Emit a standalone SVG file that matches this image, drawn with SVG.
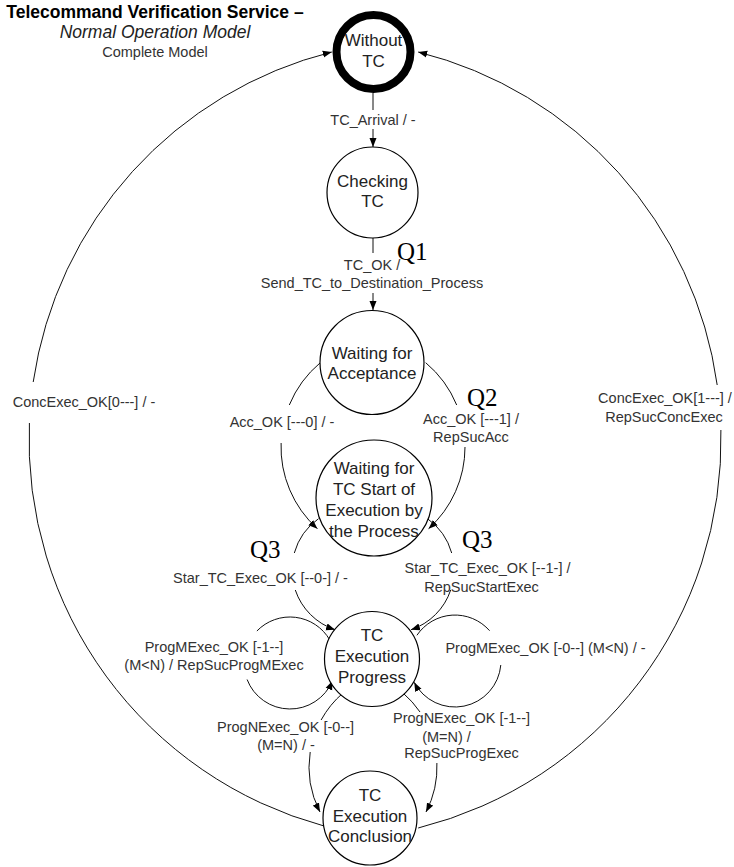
<svg xmlns="http://www.w3.org/2000/svg" width="734" height="867" viewBox="0 0 734 867">
<defs>
<marker id="arr" markerWidth="9" markerHeight="8" refX="9" refY="4" orient="auto" markerUnits="userSpaceOnUse"><path d="M0,0.5 L9,4 L0,7.5 z" fill="#000"/></marker>
<style>
.n{fill:#fff;stroke:#000;stroke-width:1.2}
.nt{font-family:"Liberation Sans",Arial,sans-serif;font-size:17px;fill:#222;text-anchor:middle}
.c{fill:none;stroke:#111;stroke-width:1}
.a{marker-end:url(#arr)}
.l{font-family:"Liberation Sans",Arial,sans-serif;font-size:14.5px;fill:#333;text-anchor:middle}
.q{font-family:"Liberation Serif","Times New Roman",serif;font-size:25px;fill:#000}
.t{font-family:"Liberation Sans",Arial,sans-serif;text-anchor:middle}
</style>
</defs>
<rect width="734" height="867" fill="#fff"/>
<g id="title">
<text class="t" x="155" y="18" font-size="17.5" font-weight="bold" fill="#000">Telecommand Verification Service –</text>
<text class="t" x="155" y="38" font-size="17.5" font-style="italic" fill="#222">Normal Operation Model</text>
<text class="t" x="155" y="57" font-size="14.5" fill="#333">Complete Model</text>
</g>
<g id="connectors">
<path class="c" d="M373,93 V110"/>
<path class="c a" d="M373,129 V147"/>
<path class="c" d="M373,238 V253"/>
<path class="c a" d="M373,293 V310"/>
<path class="c" d="M324,826 A400,400 0 0 1 29.4,423"/>
<path class="c a" d="M33.2,382 A400,400 0 0 1 331.8,52"/>
<path class="c" d="M418.2,828 A400,400 0 0 0 720.9,430"/>
<path class="c a" d="M717.2,385 A400,400 0 0 0 418.2,52"/>
<path class="c" d="M320.3,362.7 A110,110 0 0 0 289.3,405"/>
<path class="c a" d="M281.1,443 A110,110 0 0 0 317.4,528.7"/>
<path class="c" d="M425.7,362.7 A110,110 0 0 1 456.7,405"/>
<path class="c a" d="M465,447 A110,110 0 0 1 428.6,528.7"/>
<path class="c" d="M318.5,518.7 A63,63 0 0 0 294.3,553"/>
<path class="c a" d="M295.3,590 A63,63 0 0 0 335,629.7"/>
<path class="c" d="M427.5,518.7 A63,63 0 0 1 451.7,553"/>
<path class="c a" d="M450.7,590 A63,63 0 0 1 411,629.7"/>
<path class="c" d="M329.8,640 A46,46 0 0 0 256.9,631"/>
<path class="c a" d="M247.1,679.5 A46,46 0 0 0 332.4,680.9"/>
<path class="c" d="M416.9,635.3 A46,46 0 0 1 489.6,630.7"/>
<path class="c a" d="M500.8,665 A46,46 0 0 1 414.2,682.3"/>
<path class="c" d="M343,693 A97.5,97.5 0 0 0 321.1,720"/>
<path class="c a" d="M310.2,752 A97.5,97.5 0 0 0 320,812"/>
<path class="c" d="M403,693 A97.5,97.5 0 0 1 420,712"/>
<path class="c a" d="M436.9,763 A97.5,97.5 0 0 1 426,812"/>
</g>
<g id="labels">
<text class="l" x="373" y="125">TC_Arrival / -</text>
<text class="l" x="372" y="270">TC_OK /</text>
<text class="l" x="372" y="288">Send_TC_to_Destination_Process</text>
<text class="l" x="84" y="407">ConcExec_OK[0---] / -</text>
<text class="l" x="665" y="403">ConcExec_OK[1---] /</text>
<text class="l" x="664" y="422">RepSucConcExec</text>
<text class="l" x="282" y="427">Acc_OK [---0] / -</text>
<text class="l" x="471" y="424">Acc_OK [---1] /</text>
<text class="l" x="471" y="442">RepSucAcc</text>
<text class="l" x="260.5" y="583">Star_TC_Exec_OK [--0-] / -</text>
<text class="l" x="487.5" y="573">Star_TC_Exec_OK [--1-] /</text>
<text class="l" x="481.5" y="592">RepSucStartExec</text>
<text class="l" x="214" y="652">ProgMExec_OK [-1--]</text>
<text class="l" x="214" y="670">(M&lt;N) / RepSucProgMExec</text>
<text class="l" x="545.5" y="653">ProgMExec_OK [-0--] (M&lt;N) / -</text>
<text class="l" x="285.5" y="732">ProgNExec_OK [-0--]</text>
<text class="l" x="286" y="750">(M=N) / -</text>
<text class="l" x="461.5" y="723">ProgNExec_OK [-1--]</text>
<text class="l" x="446.5" y="742">(M=N) /</text>
<text class="l" x="461.5" y="758">RepSucProgExec</text>
<text class="q" x="397" y="260">Q1</text>
<text class="q" x="467" y="406">Q2</text>
<text class="q" x="250" y="558">Q3</text>
<text class="q" x="462" y="548">Q3</text>
</g>
<g id="without-tc">
<circle cx="373.5" cy="52" r="37" fill="#fff" stroke="#000" stroke-width="8"/>
<text class="nt" x="373.5" y="45.5">Without</text>
<text class="nt" x="373.5" y="67">TC</text>
</g>
<g id="checking-tc">
<circle class="n" cx="372.5" cy="192.5" r="45.5"/>
<text class="nt" x="372.5" y="187">Checking</text>
<text class="nt" x="372.5" y="207">TC</text>
</g>
<g id="waiting-acceptance">
<circle class="n" cx="372" cy="362.5" r="52"/>
<text class="nt" x="372" y="359">Waiting for</text>
<text class="nt" x="372" y="379">Acceptance</text>
</g>
<g id="waiting-start">
<circle class="n" cx="374" cy="498" r="58"/>
<text class="nt" x="374" y="474">Waiting for</text>
<text class="nt" x="374" y="495">TC Start of</text>
<text class="nt" x="374" y="516">Execution by</text>
<text class="nt" x="374" y="537">the Process</text>
</g>
<g id="execution-progress">
<circle class="n" cx="372" cy="659" r="47.5"/>
<text class="nt" x="372" y="640.5">TC</text>
<text class="nt" x="372" y="662">Execution</text>
<text class="nt" x="372" y="683">Progress</text>
</g>
<g id="execution-conclusion">
<circle class="n" cx="370" cy="818" r="47"/>
<text class="nt" x="370" y="800.5">TC</text>
<text class="nt" x="370" y="822">Execution</text>
<text class="nt" x="370" y="842">Conclusion</text>
</g>
</svg>
